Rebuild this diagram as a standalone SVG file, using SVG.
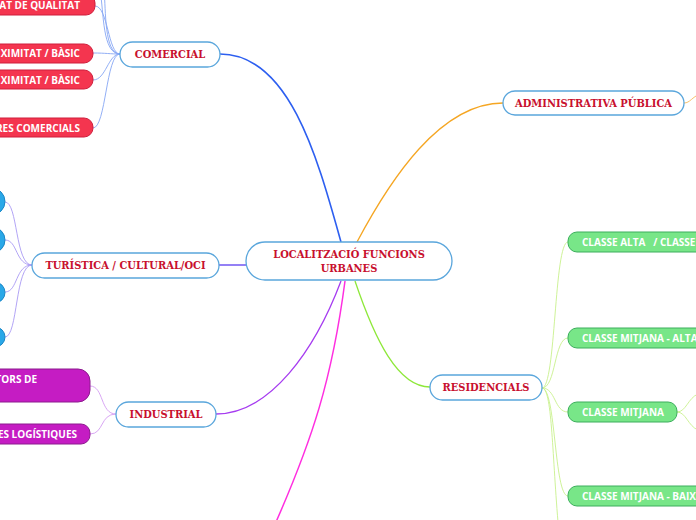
<svg xmlns="http://www.w3.org/2000/svg" width="696" height="520" viewBox="0 0 696 520">
<style>
.main{fill:#ffffff;stroke:#5aa6dc;stroke-width:1.3}
.mt{font-family:"DejaVu Serif Condensed","Liberation Serif",serif;font-stretch:condensed;font-weight:bold;font-size:11px;fill:#c8102e;text-anchor:middle}
.pt{font-family:"Open Sans","Liberation Sans",sans-serif;font-weight:bold;font-size:10px;fill:#ffffff}
.red{fill:#f4354f;stroke:#cf1f3d;stroke-width:1}
.blu{fill:#2aa8e8;stroke:#1a86c6;stroke-width:1}
.mag{fill:#c51cc3;stroke:#8c1a8e;stroke-width:1}
.grn{fill:#78e688;stroke:#3cae5c;stroke-width:1}
.c{fill:none}
</style>
<rect width="696" height="520" fill="#ffffff"/>
<g id="connectors">
  <path class="c" d="M220,54 C290,54 318,160 341,242" stroke="#2d5ff0" stroke-width="1.6"/>
  <path class="c" d="M357,242 C390,180 440,103 503,103" stroke="#f5a623" stroke-width="1.3"/>
  <path class="c" d="M684,103 C690,103 692,97 700,94" stroke="#f8c06a" stroke-width="1"/>
  <line x1="219" y1="265" x2="246" y2="265" stroke="#5a3cf0" stroke-width="1.3"/>
  <path class="c" d="M341,281 C315,350 270,414 216,414" stroke="#a63cf0" stroke-width="1.3"/>
  <path class="c" d="M345,281 C332,380 312,440 276,522" stroke="#ff2ee0" stroke-width="1.5"/>
  <path class="c" d="M355,281 C375,340 398,387 430,387" stroke="#8ee83a" stroke-width="1.3"/>
  <g stroke="#86a6f4" stroke-width="0.9" fill="none">
    <path d="M120,54 C108,54 108,6 95,6"/>
    <path d="M120,54 C110,54 106,53 93,53"/>
    <path d="M120,54 C108,54 106,80 93,80"/>
    <path d="M120,54 C106,54 106,128 93,128"/>
    <path d="M120,54 C104,54 106,10 104,-10"/>
    <path d="M120,54 C102,54 104,12 100,-10"/>
  </g>
  <g stroke="#a99af4" stroke-width="0.9" fill="none">
    <path d="M32,265 C15,265 18,202 5,202"/>
    <path d="M32,265 C15,265 18,240 5,240"/>
    <path d="M32,265 C15,265 18,292 5,292"/>
    <path d="M32,265 C15,265 18,337 5,337"/>
  </g>
  <g stroke="#d49cf2" stroke-width="0.9" fill="none">
    <path d="M116,414 C100,414 104,386 90,386"/>
    <path d="M116,414 C100,414 104,434 90,434"/>
  </g>
  <g stroke="#c8f08c" stroke-width="0.9" fill="none">
    <path d="M542,388 C556,388 554,242 568,242"/>
    <path d="M542,388 C556,388 554,338 568,338"/>
    <path d="M542,388 C556,388 554,412 568,412"/>
    <path d="M542,388 C556,388 554,496 568,496"/>
    <path d="M542,388 C552,388 552,450 558,522"/>
    <path d="M677,412 C686,412 688,398 698,394"/>
    <path d="M677,412 C686,412 688,426 698,430"/>
  </g>
</g>
<g id="center">
  <rect class="main" x="246" y="242" width="206" height="38" rx="19"/>
  <text class="mt" x="349" y="258">LOCALITZACIÓ FUNCIONS</text>
  <text class="mt" x="349" y="272">URBANES</text>
</g>
<g id="comercial">
  <rect class="main" x="120" y="42" width="100" height="25" rx="12.5"/>
  <text class="mt" x="170" y="58">COMERCIAL</text>
</g>
<g id="administrativa">
  <rect class="main" x="503" y="91" width="181" height="24" rx="12"/>
  <text class="mt" x="593.5" y="107">ADMINISTRATIVA PÚBLICA</text>
</g>
<g id="turistica">
  <rect class="main" x="32" y="253" width="187" height="25" rx="12.5"/>
  <text class="mt" x="125.5" y="269">TURÍSTICA / CULTURAL/OCI</text>
</g>
<g id="industrial">
  <rect class="main" x="116" y="402" width="100" height="25" rx="12.5"/>
  <text class="mt" x="166" y="418">INDUSTRIAL</text>
</g>
<g id="residencials">
  <rect class="main" x="430" y="375" width="112" height="25" rx="12.5"/>
  <text class="mt" x="486" y="391">RESIDENCIALS</text>
</g>
<g id="com-1">
  <rect class="red" x="-100" y="-6" width="195" height="21" rx="9"/>
  <text class="pt" x="80" y="9" text-anchor="end">AT DE QUALITAT</text>
</g>
<g id="com-2">
  <rect class="red" x="-100" y="44" width="193" height="19" rx="9"/>
  <text class="pt" x="80" y="57" text-anchor="end">XIMITAT / BÀSIC</text>
</g>
<g id="com-3">
  <rect class="red" x="-100" y="70" width="193" height="19" rx="9"/>
  <text class="pt" x="80" y="84" text-anchor="end">XIMITAT / BÀSIC</text>
</g>
<g id="com-4">
  <rect class="red" x="-100" y="118" width="193" height="19" rx="9"/>
  <text class="pt" x="80" y="132" text-anchor="end">RES COMERCIALS</text>
</g>
<g id="tur-1"><rect class="blu" x="-40" y="188" width="45" height="27" rx="13.5"/></g>
<g id="tur-2"><rect class="blu" x="-40" y="227" width="45" height="26" rx="13"/></g>
<g id="tur-3"><rect class="blu" x="-40" y="282" width="45" height="21" rx="10.5"/></g>
<g id="tur-4"><rect class="blu" x="-40" y="327" width="45" height="20" rx="10"/></g>
<g id="ind-1">
  <rect class="mag" x="-100" y="369" width="190" height="33" rx="12"/>
  <text class="pt" x="37" y="383" text-anchor="end">TORS DE</text>
</g>
<g id="ind-2">
  <rect class="mag" x="-100" y="424" width="190" height="20" rx="9"/>
  <text class="pt" x="77" y="438" text-anchor="end">ES LOGÍSTIQUES</text>
</g>
<g id="res-1">
  <rect class="grn" x="568" y="232" width="200" height="20" rx="9"/>
  <text class="pt" x="582" y="246" xml:space="preserve">CLASSE ALTA   / CLASSE</text>
</g>
<g id="res-2">
  <rect class="grn" x="568" y="328" width="200" height="20" rx="9"/>
  <text class="pt" x="582" y="342">CLASSE MITJANA - ALTA</text>
</g>
<g id="res-3">
  <rect class="grn" x="568" y="402" width="109" height="20" rx="9"/>
  <text class="pt" x="582" y="416">CLASSE MITJANA</text>
</g>
<g id="res-4">
  <rect class="grn" x="568" y="486" width="200" height="20" rx="9"/>
  <text class="pt" x="582" y="500">CLASSE MITJANA - BAIXA</text>
</g>
</svg>
